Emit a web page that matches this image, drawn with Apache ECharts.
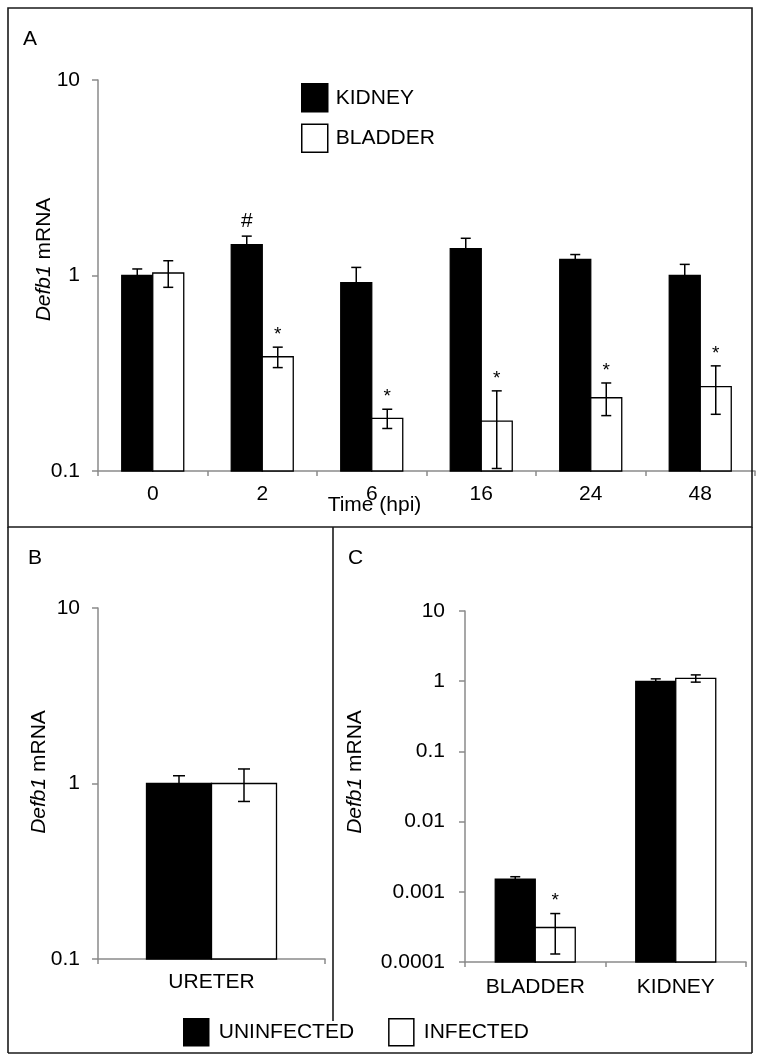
<!DOCTYPE html>
<html>
<head>
<meta charset="utf-8">
<script src="https://cdn.jsdelivr.net/npm/echarts@6/dist/echarts.min.js"></script>
<style>
  html, body { margin: 0; padding: 0; background: #fff; }
  #chart { width: 761px; height: 1060px; }
</style>
</head>
<body>
<div id="chart"></div>
<script>
// panel A: time course, kidney vs bladder
var timeLabels = ['0', '2', '6', '16', '24', '48'];
var kidneyA = [1.0, 1.44, 0.92, 1.37, 1.21, 1.0];
var kidneyAErr = [0.08, 0.15, 0.18, 0.18, 0.07, 0.14];
var kidneyAMarks = ['', '#', '', '', '', ''];
var bladderA = [1.03, 0.384, 0.186, 0.18, 0.237, 0.27];
var bladderAErr = [0.16, 0.046, 0.021, 0.077, 0.045, 0.075];
var bladderAMarks = ['', '*', '*', '*', '*', '*'];

// panel B: ureter
var ureterLabels = ['URETER'];
var ureterUninf = [1.0];
var ureterUninfErr = [0.107];
var ureterInf = [1.0];
var ureterInfErr = [0.21];

// panel C: bladder / kidney
var organLabels = ['BLADDER', 'KIDNEY'];
var organUninf = [0.00152, 0.99];
var organUninfErr = [0.00012, 0.09];
var organInf = [0.00031, 1.1];
var organInfErr = [0.00018, 0.13];
var organInfMarks = ['*', ''];

var FONT = '"Liberation Sans", Arial, sans-serif';
var FS = 21;
var AXIS_GRAY = '#8a8a8a';

function bars(name, idx, values, errs, marks, fill, side, barW, capW) {
	return {
		type: 'custom',
		name: name,
		xAxisIndex: idx,
		yAxisIndex: idx,
		itemStyle: { color: fill, borderColor: '#000', borderWidth: 1.5 },
		data: values.map(function(v, i) { return [i, v]; }),
		encode: { x: 0, y: 1 },
		renderItem: function(params, api) {
			var i = api.value(0);
			var v = api.value(1);
			var e = errs[params.dataIndex];
			var cs = params.coordSys;
			var base = cs.y + cs.height;
			var top = api.coord([i, v]);
			var cx = top[0] + side * barW / 2;
			var hi = api.coord([i, v + e])[1];
			var lo = api.coord([i, v - e])[1];
			var ln = { stroke: '#000', lineWidth: 1.5 };
			var kids = [
				{ type: 'rect', shape: { x: cx - barW / 2, y: top[1], width: barW, height: base - top[1] },
				  style: { fill: fill, stroke: '#000', lineWidth: 1.3 } },
				{ type: 'line', shape: { x1: cx, y1: hi, x2: cx, y2: lo }, style: ln },
				{ type: 'line', shape: { x1: cx - capW / 2, y1: hi, x2: cx + capW / 2, y2: hi }, style: ln },
				{ type: 'line', shape: { x1: cx - capW / 2, y1: lo, x2: cx + capW / 2, y2: lo }, style: ln }
			];
			var m = marks ? marks[params.dataIndex] : '';
			if (m) {
				kids.push({
					type: 'text',
					style: {
						x: cx, y: m == '#' ? hi - 4 : hi - 3, text: m,
						align: 'center', verticalAlign: 'bottom',
						fontSize: m == '#' ? 21 : 19, fontFamily: FONT, fill: '#000'
					}
				});
			}
			return { type: 'group', children: kids };
		}
	};
}

function logAxis(idx, min, max, nameGap, namePad, labelMargin) {
	return {
		type: 'log',
		logBase: 10,
		gridIndex: idx,
		min: min,
		max: max,
		name: '{i|Defb1} mRNA',
		nameLocation: 'middle',
		nameRotate: 90,
		nameGap: nameGap,
		nameMoveOverlap: false,
		nameTextStyle: {
			fontSize: FS, fontFamily: FONT, color: '#000',
			padding: [0, 0, 0, namePad],
			rich: { i: { fontStyle: 'italic', fontSize: FS, fontFamily: FONT, color: '#000' } }
		},
		axisLine: { show: true, lineStyle: { color: AXIS_GRAY, width: 1.5 } },
		axisTick: { show: true, length: 6, lineStyle: { color: AXIS_GRAY, width: 1.5 } },
		minorTick: { show: false },
		splitLine: { show: false },
		axisLabel: {
			fontSize: FS, fontFamily: FONT, color: '#000', margin: labelMargin,
			formatter: function(v) { return String(+(+v).toPrecision(3)); }
		}
	};
}

function catAxis(idx, labels, labelMargin) {
	return {
		type: 'category',
		gridIndex: idx,
		data: labels,
		axisLine: { show: true, lineStyle: { color: AXIS_GRAY, width: 1.5 } },
		axisTick: { show: true, length: 5, lineStyle: { color: AXIS_GRAY, width: 1.5 } },
		axisLabel: { fontSize: FS, fontFamily: FONT, color: '#000', margin: labelMargin },
		splitLine: { show: false }
	};
}

var chart = echarts.init(document.getElementById('chart'), null, { renderer: 'canvas' });

var xA = catAxis(0, timeLabels, 13);
xA.name = 'Time (hpi)';
xA.nameLocation = 'middle';
xA.nameGap = 24;
xA.nameMoveOverlap = false;
xA.nameTextStyle = { fontSize: FS, fontFamily: FONT, color: '#000', padding: [0, 104, 0, 0] };

var frame = { stroke: '#1a1a1a', lineWidth: 1.6 };

option = {
	animation: false,
	backgroundColor: '#fff',
	textStyle: { fontFamily: FONT },
	grid: [
		{ left: 98, top: 80, width: 657, height: 391, outerBoundsMode: 'none' },
		{ left: 98, top: 608, width: 227, height: 351, outerBoundsMode: 'none' },
		{ left: 465, top: 611, width: 281, height: 351, outerBoundsMode: 'none' }
	],
	xAxis: [xA, catAxis(1, ureterLabels, 13), catAxis(2, organLabels, 15)],
	yAxis: [
		logAxis(0, 0.1, 10, 43, 32, 18),
		logAxis(1, 0.1, 10, 48, 23, 18),
		logAxis(2, 0.0001, 10, 99, 29, 20)
	],
	legend: [{
		orient: 'vertical',
		left: 296,
		top: 78,
		icon: 'rect',
		itemWidth: 26,
		itemHeight: 28,
		itemGap: 11,
		selectedMode: false,
		textStyle: { fontSize: FS, fontFamily: FONT, color: '#000', padding: [0, 0, 0, 3] },
		data: [
			{ name: 'KIDNEY', itemStyle: { color: '#000', borderColor: '#000', borderWidth: 1.5 } },
			{ name: 'BLADDER', itemStyle: { color: '#fff', borderColor: '#000', borderWidth: 1.5 } }
		]
	}, {
		orient: 'horizontal',
		left: 178,
		top: 1013,
		icon: 'rect',
		itemWidth: 25,
		itemHeight: 27,
		itemGap: 34,
		selectedMode: false,
		textStyle: { fontSize: FS, fontFamily: FONT, color: '#000', padding: [0, 0, 0, 5] },
		data: [
			{ name: 'UNINFECTED', itemStyle: { color: '#000', borderColor: '#000', borderWidth: 1.5 } },
			{ name: 'INFECTED', itemStyle: { color: '#fff', borderColor: '#000', borderWidth: 1.5 } }
		]
	}],
	graphic: [
		{ type: 'rect', shape: { x: 8, y: 8, width: 744, height: 519 }, style: { fill: 'none', stroke: frame.stroke, lineWidth: frame.lineWidth }, z: 100 },
		{ type: 'line', shape: { x1: 8, y1: 527, x2: 8, y2: 1053 }, style: frame, z: 100 },
		{ type: 'line', shape: { x1: 8, y1: 1053, x2: 752, y2: 1053 }, style: frame, z: 100 },
		{ type: 'line', shape: { x1: 752, y1: 527, x2: 752, y2: 1053 }, style: frame, z: 100 },
		{ type: 'line', shape: { x1: 333, y1: 527, x2: 333, y2: 1021 }, style: frame, z: 100 },
		{ type: 'text', left: 23, top: 29, style: { text: 'A', fontSize: 21, fontFamily: FONT, fill: '#000' } },
		{ type: 'text', left: 28, top: 548, style: { text: 'B', fontSize: 21, fontFamily: FONT, fill: '#000' } },
		{ type: 'text', left: 348, top: 548, style: { text: 'C', fontSize: 21, fontFamily: FONT, fill: '#000' } }
	],
	series: [
		bars('KIDNEY', 0, kidneyA, kidneyAErr, kidneyAMarks, '#000', -1, 31, 10),
		bars('BLADDER', 0, bladderA, bladderAErr, bladderAMarks, '#fff', 1, 31, 10),
		bars('UNINFECTED', 1, ureterUninf, ureterUninfErr, null, '#000', -1, 65, 12),
		bars('INFECTED', 1, ureterInf, ureterInfErr, null, '#fff', 1, 65, 12),
		bars('UNINFECTED', 2, organUninf, organUninfErr, null, '#000', -1, 40, 10),
		bars('INFECTED', 2, organInf, organInfErr, organInfMarks, '#fff', 1, 40, 10)
	]
};
chart.setOption(option);
</script>
</body>
</html>
